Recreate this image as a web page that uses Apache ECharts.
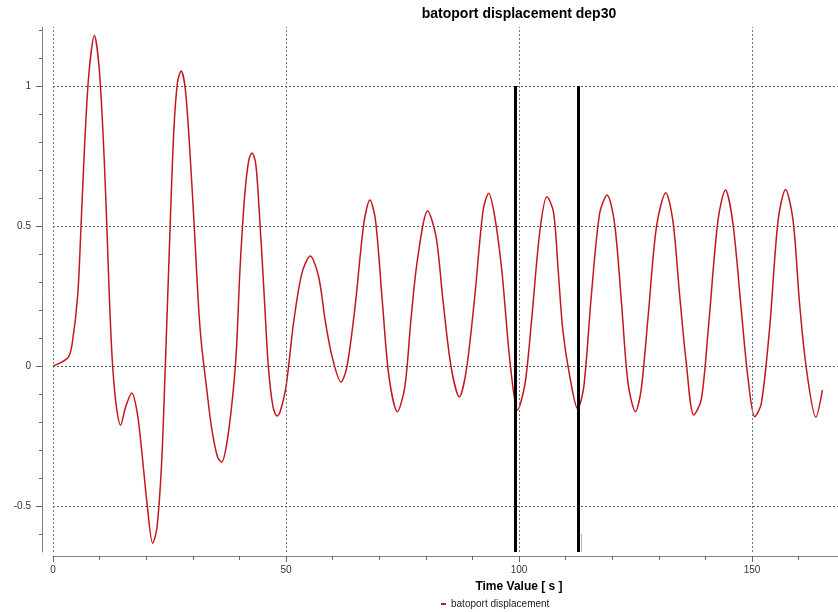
<!DOCTYPE html>
<html>
<head>
<meta charset="utf-8">
<script src="https://cdn.jsdelivr.net/npm/echarts@6/dist/echarts.min.js"></script>
<style>html,body{margin:0;padding:0;background:#fff}#c{width:838px;height:612px}</style>
</head>
<body>
<div id="c"></div>
<script>
const timeValues = [0,3.2,4.1,5.3,6.0,6.7,7.66,8.87,9.93,11.0,11.7,12.2,12.8,13.6,14.5,15.6,16.9,18.1,19.1,20.2,21.4,22.3,23.3,24.1,25.0,25.9,26.7,27.5,28.4,29.4,30.4,31.3,31.9,33.0,34.0,35.3,36.2,37.4,38.7,39.4,40.1,41.1,42.0,42.7,43.5,44.3,45.4,46.2,47.2,48.1,48.7,50.0,51.6,53.4,55.2,57.0,58.4,59.9,61.8,63.1,64.9,66.7,68.0,69.2,70.7,72.1,73.9,75.5,76.8,78.2,80.4,82.2,83.6,85.4,87.2,88.7,90.5,92.3,93.5,94.8,96.3,98.1,99.7,101.3,102.7,104.5,106.0,107.4,108.4,109.4,110.9,112.6,113.9,115.5,117.3,118.9,120.5,122.0,123.4,125.0,126.2,127.7,129.5,131.5,133.0,134.5,135.9,137.5,139.1,140.6,142.7,144.3,145.9,147.7,149.1,150.6,152.0,153.8,155.6,157.2,158.8,160.2,161.7,163.7,165.1];
const displacement = [0,0.03,0.078,0.253,0.494,0.759,1.036,1.181,1.06,0.735,0.43,0.2,0,-0.145,-0.211,-0.145,-0.096,-0.169,-0.313,-0.494,-0.633,-0.578,-0.349,0,0.434,0.831,1.012,1.054,0.988,0.759,0.47,0.193,0.072,-0.084,-0.217,-0.325,-0.343,-0.265,-0.084,0.072,0.337,0.602,0.735,0.761,0.723,0.542,0.229,0,-0.145,-0.178,-0.165,-0.074,0.152,0.331,0.393,0.319,0.164,0.033,-0.057,0,0.224,0.51,0.593,0.521,0.224,-0.038,-0.163,-0.074,0.164,0.379,0.555,0.462,0.248,0,-0.11,-0.014,0.248,0.557,0.617,0.533,0.343,0.01,-0.157,-0.062,0.164,0.486,0.605,0.55,0.343,0.129,-0.038,-0.153,-0.074,0.248,0.545,0.611,0.51,0.224,-0.062,-0.163,-0.086,0.176,0.498,0.619,0.521,0.248,0.01,-0.175,-0.121,0.129,0.521,0.629,0.51,0.2,-0.038,-0.181,-0.133,0.14,0.521,0.631,0.521,0.224,-0.014,-0.183,-0.086];
const xMinorTicks = [0,10,20,30,40,50,60,70,80,90,100,110,120,130,140,150,160];
const xMajorTicks = [0,50,100,150];
const yMinorTicks = [-0.6,-0.5,-0.4,-0.3,-0.2,-0.1,0,0.1,0.2,0.3,0.4,0.5,0.6,0.7,0.8,0.9,1,1.1,1.2];
const yMajorTicks = [-0.5,0,0.5,1];
const cursorTimes = [99.2,112.8];
const cursorTop = 1;
const xMin = 0, xMax = 168.45, yMin = -0.664, yMax = 1.211;

const chart = echarts.init(document.getElementById('c'));
const FONT = 'Liberation Sans, Arial, sans-serif';
const gridLineData = []
  .concat(yMajorTicks.map(v => ({yAxis: v, lineStyle: {color: '#555', type: [2, 2], width: 1}})))
  .concat(xMajorTicks.map(v => ({xAxis: v, lineStyle: {color: '#777', type: [2, 2], width: 1}})));
const cursorData = cursorTimes.map(t => [{coord: [t, cursorTop]}, {coord: [t, yMin]}]);
cursorData.push([{coord: [113.4, -0.6], lineStyle: {color: '#86cf86', width: 1}}, {coord: [113.4, yMin]}]);

const axisCommonX = {type: 'value', min: xMin, max: xMax, position: 'bottom', offset: 4, splitLine: {show: false}};
const axisCommonY = {type: 'value', min: yMin, max: yMax, position: 'left', offset: 11, splitLine: {show: false}};

chart.setOption({
  animation: false,
  backgroundColor: '#fff',
  textStyle: {fontFamily: FONT},
  title: [
    {text: 'batoport displacement dep30', left: 519, top: 7, padding: 0, textAlign: 'center',
     textStyle: {fontSize: 14, fontWeight: 'bold', color: '#000', fontFamily: FONT}},
    {text: 'Time Value [ s ]', left: 519, top: 581, padding: 0, textAlign: 'center',
     textStyle: {fontSize: 12, fontWeight: 'bold', color: '#000', fontFamily: FONT}}
  ],
  legend: {
    data: ['batoport displacement'], left: 441, top: 599, padding: 0,
    icon: 'rect', itemWidth: 5, itemHeight: 2, itemGap: 4,
    textStyle: {fontSize: 10, color: '#222', fontFamily: FONT}
  },
  grid: {left: 53, right: 0, top: 27, bottom: 60, containLabel: false},
  xAxis: [
    Object.assign({}, axisCommonX, {
      axisLine: {show: true, onZero: false, lineStyle: {color: '#808080', width: 1}},
      axisTick: {show: true, customValues: xMinorTicks, length: 4, lineStyle: {color: '#666'}},
      axisLabel: {customValues: xMajorTicks, margin: 9, fontSize: 10, color: '#333', fontFamily: FONT}
    }),
    Object.assign({}, axisCommonX, {
      axisLine: {show: false, onZero: false},
      axisTick: {show: true, customValues: xMajorTicks, length: 6, lineStyle: {color: '#666'}},
      axisLabel: {show: false}
    })
  ],
  yAxis: [
    Object.assign({}, axisCommonY, {
      axisLine: {show: true, onZero: false, lineStyle: {color: '#808080', width: 1}},
      axisTick: {show: true, customValues: yMinorTicks, length: 3, lineStyle: {color: '#666'}},
      axisLabel: {customValues: yMajorTicks, margin: 11, fontSize: 10, color: '#333', fontFamily: FONT}
    }),
    Object.assign({}, axisCommonY, {
      axisLine: {show: false, onZero: false},
      axisTick: {show: true, customValues: yMajorTicks, length: 6, lineStyle: {color: '#666'}},
      axisLabel: {show: false}
    })
  ],
  series: [
    {
      name: 'grid', type: 'line', data: [], silent: true, z: 1,
      markLine: {silent: true, symbol: ['none', 'none'], label: {show: false}, animation: false, data: gridLineData}
    },
    {
      name: 'batoport displacement', type: 'line', z: 2,
      data: timeValues.map((t, i) => [t, displacement[i]]),
      showSymbol: false, smooth: 0.3,
      itemStyle: {color: '#c4161c'},
      lineStyle: {color: '#c4161c', width: 1.5}
    },
    {
      name: 'cursors', type: 'line', data: [], silent: true, z: 3,
      markLine: {silent: true, symbol: ['none', 'none'], label: {show: false}, animation: false,
        lineStyle: {color: '#000', width: 3, type: 'solid'}, data: cursorData}
    }
  ]
});
</script>
</body>
</html>
